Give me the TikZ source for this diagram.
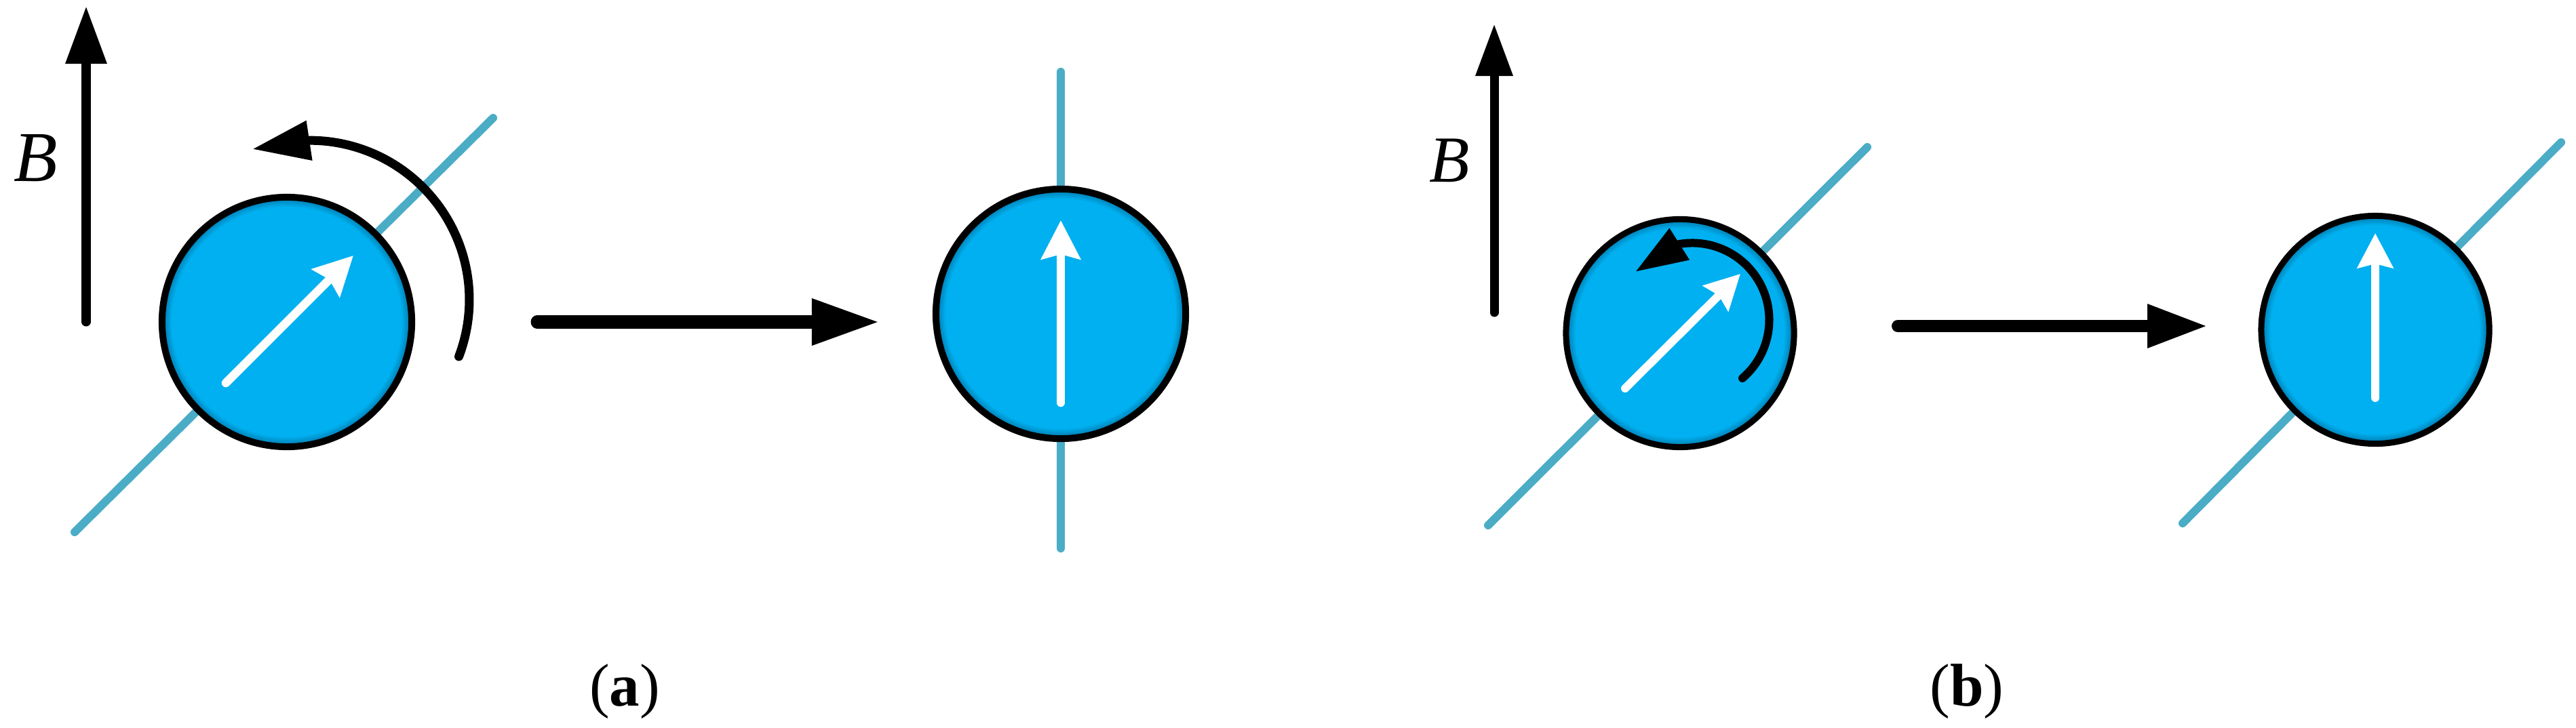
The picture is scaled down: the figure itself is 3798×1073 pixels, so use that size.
\documentclass[tikz,border=0pt]{standalone}
\usepackage{fontspec}
\setmainfont{Liberation Serif}
\usetikzlibrary{arrows.meta}
\definecolor{ballblue}{HTML}{00B0F0}
\definecolor{balledge}{HTML}{008BC2}
\definecolor{axisblue}{HTML}{4BACC6}
\newcommand{\ballrim}[2]{%
  \foreach \d/\m in {1.5/17,3/33,4.5/50,6/67,7.5/83,9/100}{%
    \fill[ballblue!\m!balledge] (#1) circle[radius=#2-\d];
  }%
}
\tikzset{
  spinaxis/.style={draw=axisblue,line width=0.12cm,line cap=round},
  ball/.style={circle,inner sep=0pt,outer sep=0pt,fill=balledge,draw=black},
  ballbig/.style={ball,line width=0.10cm,minimum size=3.68cm},
  ballsmall/.style={ball,line width=0.09cm,minimum size=3.36cm},
  fieldbig/.style={draw=black,line width=0.13cm,line cap=round,-{Triangle[length=0.85cm,width=0.58cm]}},
  fieldsmall/.style={draw=black,line width=0.13cm,line cap=round,-{Triangle[length=0.77cm,width=0.52cm]}},
  stepbig/.style={draw=black,line width=0.19cm,line cap=round,-{Triangle[length=1.0cm,width=0.64cm]}},
  stepsmall/.style={draw=black,line width=0.18cm,line cap=round,-{Triangle[length=0.89cm,width=0.60cm]}},
  spinbig/.style={draw=white,line width=0.125cm,line cap=round,-{Stealth[length=0.57cm,width=0.57cm,inset=0.07cm]}},
  spinsmall/.style={draw=white,line width=0.12cm,line cap=round,-{Stealth[length=0.51cm,width=0.52cm,inset=0.06cm]}},
  precbig/.style={draw=black,line width=0.13cm,line cap=round,-{Triangle[length=0.85cm,width=0.56cm]}},
  precsmall/.style={draw=black,line width=0.12cm,line cap=round,-{Triangle[length=0.77cm,width=0.52cm]}},
  bigB/.style={inner sep=0pt,scale=2.5,font=\fontsize{12}{14}\selectfont\itshape},
  smallB/.style={inner sep=0pt,scale=2.3,font=\fontsize{12}{14}\selectfont\itshape},
  caption/.style={inner sep=0pt,anchor=base,scale=2.11,font=\fontsize{12}{14}\selectfont}
}
\begin{document}
\begin{tikzpicture}[x=0.01cm,y=-0.01cm]
\useasboundingbox (0,0) rectangle (3798,1073);
% texts
\node[bigB] (labB1) at (53,233) {B};
\node[smallB] (labB2) at (2137,237) {B};
\node[caption] (capa) at (921,1041) {(\textbf{a})};
\node[caption] (capb) at (2900,1041) {(\textbf{b})};
% free ends
\coordinate (fa0) at (127,475);  \coordinate (fa1) at (127,9);
\coordinate (ax1a) at (110,785); \coordinate (ax1b) at (727,174);
\coordinate (st1a) at (792,475); \coordinate (st1b) at (1297,475);
\coordinate (ax2a) at (1564,809); \coordinate (ax2b) at (1564,106);
\coordinate (fb0) at (2203,461); \coordinate (fb1) at (2203,35);
\coordinate (ax3a) at (2194,775); \coordinate (ax3b) at (2753,217);
\coordinate (st2a) at (2798,481); \coordinate (st2b) at (3255,481);
\coordinate (ax4a) at (3218,772); \coordinate (ax4b) at (3776,210);
\coordinate (sp1a) at (333,565); \coordinate (sp1b) at (521,377);
\coordinate (sp2a) at (1564,594); \coordinate (sp2b) at (1564,325);
\coordinate (sp3a) at (2396,573); \coordinate (sp3b) at (2566,404);
\coordinate (sp4a) at (3502,587); \coordinate (sp4b) at (3502,344);
\coordinate (pr1a) at (676.5,526); \coordinate (pr1b) at (372,220);
\coordinate (pr2a) at (2569,558); \coordinate (pr2b) at (2411,401);
% axes
\draw[spinaxis] (ax1a) -- (ax1b);
\draw[spinaxis] (ax2a) -- (ax2b);
\draw[spinaxis] (ax3a) -- (ax3b);
\draw[spinaxis] (ax4a) -- (ax4b);
% balls
\node[ballbig] (ball1) at (423,475) {};
\node[ballbig] (ball2) at (1564,463) {};
\node[ballsmall] (ball3) at (2477,491.5) {};
\node[ballsmall] (ball4) at (3502,486.5) {};
\ballrim{ball1}{179}
\ballrim{ball2}{179}
\ballrim{ball3}{163.5}
\ballrim{ball4}{163.5}
% spins
\draw[spinbig] (sp1a) -- (sp1b);
\draw[spinbig] (sp2a) -- (sp2b);
\draw[spinsmall] (sp3a) -- (sp3b);
\draw[spinsmall] (sp4a) -- (sp4b);
% fields
\draw[fieldbig] (fa0) -- (fa1);
\draw[fieldsmall] (fb0) -- (fb1);
% steps
\draw[stepbig] (st1a) -- (st1b);
\draw[stepsmall] (st2a) -- (st2b);
% precession
\draw[precbig] (pr1a) arc[start angle=20.9,end angle=-90,x radius=235,y radius=235] -- (pr1b);
\draw[precsmall] (pr2a) arc[start angle=49.3,end angle=-99.6,x radius=113.5,y radius=113.5] -- (pr2b);
\end{tikzpicture}
\end{document}
